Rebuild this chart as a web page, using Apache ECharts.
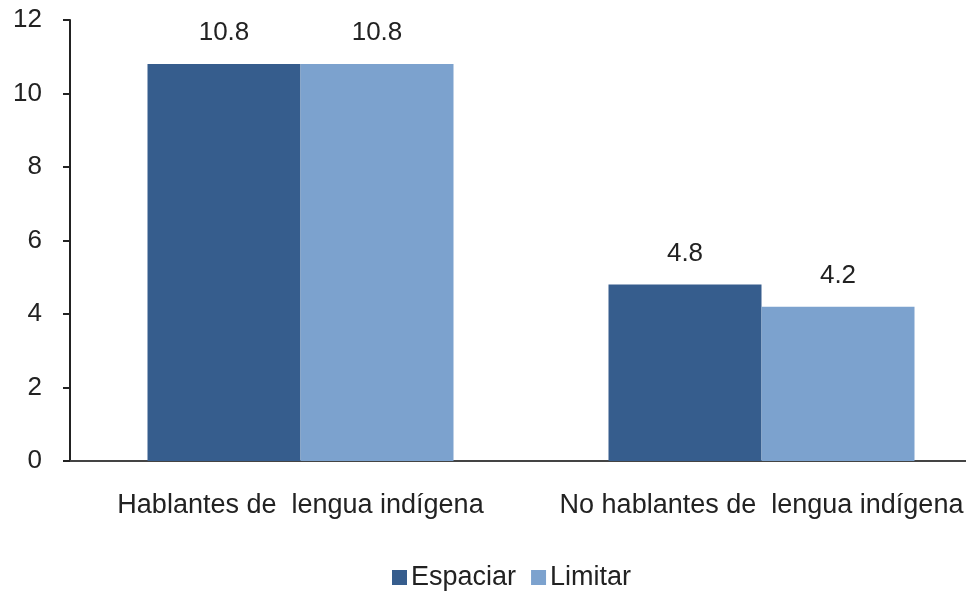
<!DOCTYPE html>
<html>
<head>
<meta charset="utf-8">
<script src="https://cdn.jsdelivr.net/npm/echarts@6/dist/echarts.min.js"></script>
<style>
  html, body { margin: 0; padding: 0; background: #fff; overflow: hidden; }
  #main { width: 992px; height: 599px; }
</style>
</head>
<body>
<div id="main"></div>
<script>
const categories = ['Hablantes de  lengua indígena', 'No hablantes de  lengua indígena'];
const espaciar = [10.8, 4.8];
const limitar = [10.8, 4.2];
const yTicks = [0, 2, 4, 6, 8, 10, 12];

// the plot runs a bit past the right edge of the window, like the original
var mychart = echarts.init(document.getElementById('main'));

const labelStyle = {
    show: true,
    position: 'top',
    distance: 18,
    fontFamily: 'Liberation Sans',
    fontSize: 26,
    color: '#222'
};

const option = {
    animation: false,
    grid: {
        top: 20,
        left: 70,
        right: 0,
        bottom: 138
    },
    legend: {
        bottom: 3,
        left: 387,
        icon: 'rect',
        itemWidth: 15,
        itemHeight: 15,
        itemGap: 15,
        textStyle: {
            fontFamily: 'Liberation Sans',
            fontSize: 27,
            color: '#222',
            padding: [0, 0, 0, -1]
        },
        data: ['Espaciar', 'Limitar']
    },
    xAxis: {
        type: 'category',
        data: categories,
        axisTick: { show: false },
        axisLine: {
            lineStyle: { color: '#444', width: 2 }
        },
        axisLabel: {
            interval: 0,
            hideOverlap: false,
            margin: 31,
            fontFamily: 'Liberation Sans',
            fontSize: 27,
            color: '#222'
        }
    },
    yAxis: {
        type: 'value',
        min: yTicks[0],
        max: yTicks[yTicks.length - 1],
        interval: 2,
        splitLine: { show: false },
        axisLine: {
            show: true,
            lineStyle: { color: '#222', width: 2 }
        },
        axisTick: {
            show: true,
            length: 7,
            lineStyle: { color: '#222', width: 2 }
        },
        axisLabel: {
            margin: 28,
            fontFamily: 'Liberation Sans',
            fontSize: 26,
            color: '#222'
        }
    },
    series: [
        {
            name: 'Espaciar',
            type: 'bar',
            data: espaciar,
            barWidth: 153,
            barGap: '0%',
            itemStyle: { color: '#365D8D' },
            label: labelStyle
        },
        {
            name: 'Limitar',
            type: 'bar',
            data: limitar,
            barWidth: 153,
            itemStyle: { color: '#7CA2CE' },
            label: labelStyle
        }
    ]
};
mychart.setOption(option);
</script>
</body>
</html>
